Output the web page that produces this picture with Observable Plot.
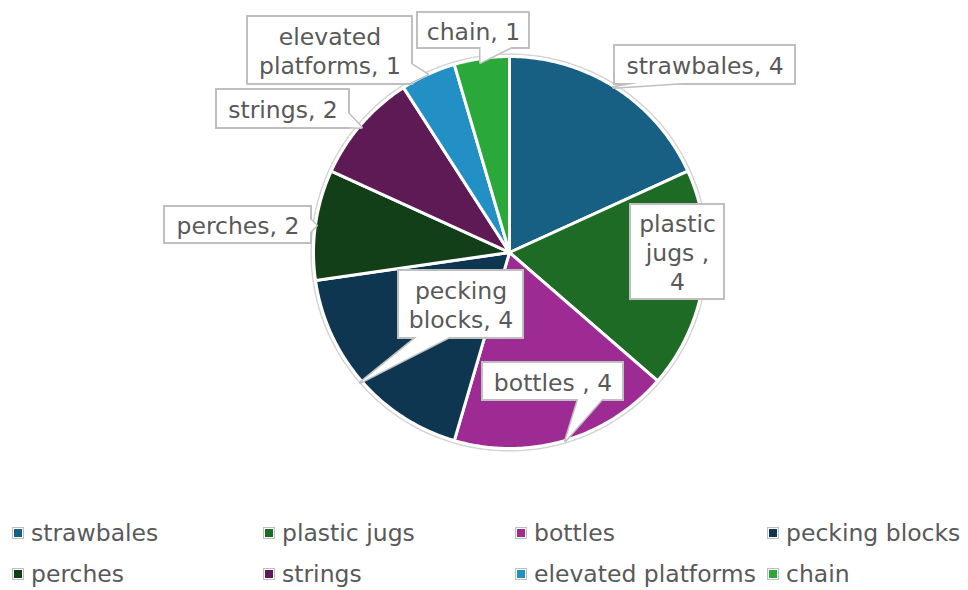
<!DOCTYPE html>
<html><head><meta charset="utf-8">
<script src="https://cdn.jsdelivr.net/npm/d3@7"></script>
<script src="https://cdn.jsdelivr.net/npm/@observablehq/plot@0.6"></script>
<style>
body{margin:0;background:#fff;font-family:"DejaVu Sans",Verdana,sans-serif;}
#legend{position:relative;width:968px;height:90px;}
.item{position:absolute;height:26px;line-height:26px;display:flex;align-items:center;font-size:23.5px;color:#595959;white-space:nowrap;}
.sw{box-sizing:border-box;width:12px;height:12px;border:1px solid #bfbfbf;padding:1px;background:#fff;margin-right:7px;}
.sw div{width:8px;height:8px;}
</style></head>
<body><div id="chart"></div><div id="legend"></div>
<script>
// ---- data ----
const categories = ["strawbales","plastic jugs","bottles","pecking blocks","perches","strings","elevated platforms","chain"];
const values = [4,4,4,4,2,2,1,1];
const colors = ["#185f84","#1d6b25","#9e2a93","#0e3650","#133f18","#5e1a54","#2290c4","#2aa83a"];
const labelTexts = ["strawbales, 4","plastic\njugs ,\n4","bottles , 4","pecking\nblocks, 4","perches, 2","strings, 2","elevated\nplatforms, 1","chain, 1"];

// ---- layout (pixels) ----
const W = 968, H = 500, cx = 509, cy = 252, R = 196;
const boxes = [
  [614,45,795,84],[630,204,724,299],[482,362,623,400],[398,270,523,338],
  [164,206,311,243],[216,89,349,128],[247,16,412,84],[417,12,529,48]
];
const pointers = [
  [[640,82],[690,82],[613,87]],
  null,
  [[578,398],[602,398],[565,440]],
  [[417,336],[450,336],[360,382]],
  [[309,218],[309,232],[316,225]],
  [[330,126],[347,112],[361,127]],
  [[405,60],[410,82],[427,74]],
  [[480,46],[512,46],[480,62]]
];
const ux = p => (p - cx) / R, uy = p => (cy - p) / R;

// pie geometry from values
const arcs = d3.pie().sort(null).startAngle(0).endAngle(2 * Math.PI)(values);
const slicePts = [];
arcs.forEach((a, i) => {
  slicePts.push({name: categories[i], x: 0, y: 0});
  const n = Math.max(4, Math.ceil((a.endAngle - a.startAngle) / 0.01));
  for (let k = 0; k <= n; k++) {
    const t = a.startAngle + (a.endAngle - a.startAngle) * k / n;
    slicePts.push({name: categories[i], x: Math.sin(t), y: Math.cos(t)});
  }
});
const ring = d3.range(0, 361).map(d => ({x: 1.012 * Math.sin(d * Math.PI / 180), y: 1.012 * Math.cos(d * Math.PI / 180)}));

const boxData = boxes.map((b, i) => ({x1: ux(b[0]), x2: ux(b[2]), y1: uy(b[1]), y2: uy(b[3]), text: labelTexts[i], cx: ux((b[0] + b[2]) / 2), cy: uy((b[1] + b[3]) / 2)}));
const ptrPts = [];
pointers.forEach((p, i) => { if (p) p.forEach(q => ptrPts.push({id: i, x: ux(q[0]), y: uy(q[1])})); });

const chart = Plot.plot({
  width: W, height: H, margin: 0,
  x: {domain: [ux(0), ux(W)], axis: null},
  y: {domain: [uy(H), uy(0)], axis: null},
  color: {domain: categories, range: colors},
  style: {fontFamily: '"DejaVu Sans", Verdana, sans-serif', background: "#fff"},
  marks: [
    Plot.line(ring, {x: "x", y: "y", stroke: "#d4d4d4", strokeWidth: 1.5}),
    Plot.line(slicePts, {x: "x", y: "y", z: "name", fill: "name", stroke: "white", strokeWidth: 3, strokeLinejoin: "round", curve: "linear-closed"}),
    Plot.line(ptrPts, {x: "x", y: "y", z: "id", fill: "white", stroke: "#bfbfbf", strokeWidth: 3, curve: "linear-closed"}),
    Plot.rect(boxData, {x1: "x1", x2: "x2", y1: "y1", y2: "y2", fill: "white", stroke: "#bfbfbf", strokeWidth: 2}),
    Plot.line(ptrPts, {x: "x", y: "y", z: "id", fill: "white", curve: "linear-closed"}),
    Plot.text(boxData, {x: "cx", y: "cy", text: "text", fontSize: 23.5, fill: "#595959", lineHeight: 1.23})
  ]
});
document.getElementById("chart").appendChild(chart);

// legend
const legendCols = [12, 263, 515, 767], legendRows = [33, 74];
const lg = document.getElementById("legend");
categories.forEach((c, i) => {
  const el = document.createElement("div");
  el.className = "item";
  el.style.left = legendCols[i % 4] + "px";
  el.style.top = (legendRows[Math.floor(i / 4)] - 13) + "px";
  el.innerHTML = `<div class="sw"><div style="background:${colors[i]}"></div></div><span>${c}</span>`;
  lg.appendChild(el);
});
</script>
</body></html>
